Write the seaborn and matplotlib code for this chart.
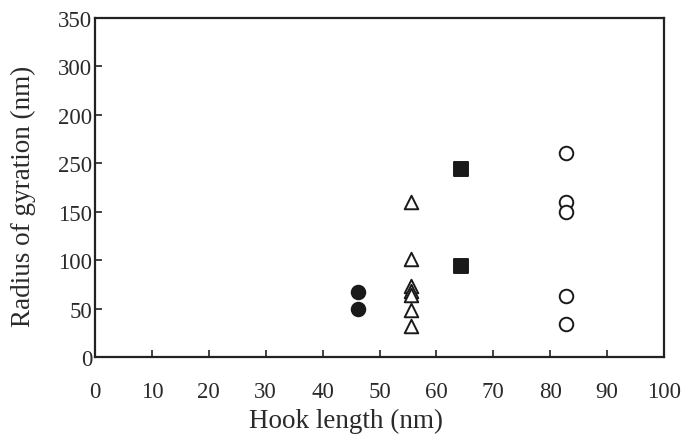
import matplotlib
matplotlib.use("Agg")
import matplotlib.pyplot as plt
import seaborn as sns
import pandas as pd

# Data
filled_circle_x = [46.3, 46.3]
filled_circle_y = [66.8, 49.6]
triangle_x = [55.5] * 7
triangle_y = [159.7, 101.2, 73.6, 68.4, 64.0, 48.8, 32.3]
square_x = [64.3, 64.3]
square_y = [194.1, 93.6]
open_circle_x = [82.7] * 5
open_circle_y = [210.6, 159.7, 150.0, 63.3, 34.1]

x_ticks = [0, 10, 20, 30, 40, 50, 60, 70, 80, 90, 100]
y_ticks = [0, 50, 100, 150, 200, 250, 300, 350]
y_tick_labels = ["0", "50", "100", "150", "250", "200", "300", "350"]

sns.set_theme(style="white")
plt.rcParams['font.family'] = ['Liberation Serif', 'DejaVu Serif']

fig = plt.figure(figsize=(6.86, 4.39), dpi=100)
ax = fig.add_axes([95/686, 1-358/439, (664-95)/686, (358-19)/439])

groups = [
    (filled_circle_x, filled_circle_y, "o", "#1a1a1a", "#1a1a1a"),
    (triangle_x, triangle_y, "^", "white", "#1a1a1a"),
    (square_x, square_y, "s", "#1a1a1a", "#1a1a1a"),
    (open_circle_x, open_circle_y, "o", "white", "#1a1a1a"),
]
for xs, ys, m, fc, ec in groups:
    df = pd.DataFrame({"x": xs, "y": ys})
    sns.scatterplot(data=df, x="x", y="y", marker=m, s=95, facecolor=fc,
                    edgecolor=ec, linewidth=1.4, ax=ax, zorder=3)

ax.set_xlim(0, 100)
ax.set_ylim(0, 350)
ax.set_xticks(x_ticks)
ax.set_xticklabels([str(v) for v in x_ticks])
ax.set_yticks(y_ticks)
ax.set_yticklabels(y_tick_labels)

for sp in ax.spines.values():
    sp.set_visible(True)
    sp.set_linewidth(1.6)
    sp.set_color("#222222")

ax.tick_params(axis="x", direction="in", length=5, width=1.2, color="#222222",
               pad=17, labelsize=16.5, labelcolor="#2a2a2a", top=False, bottom=True)
ax.tick_params(axis="y", direction="in", length=5, width=1.2, color="#222222",
               pad=2, labelsize=16.5, labelcolor="#2a2a2a", left=True, right=False)

ax.set_xlabel("Hook length (nm)", fontsize=19.5, color="#2a2a2a")
ax.set_ylabel("Radius of gyration (nm)", fontsize=19.5, color="#2a2a2a")
ax.xaxis.set_label_coords(0.442, -0.150)
ax.yaxis.set_label_coords(-0.104, 0.478)
ax.grid(False)

fig.savefig("out.png", dpi=100)
